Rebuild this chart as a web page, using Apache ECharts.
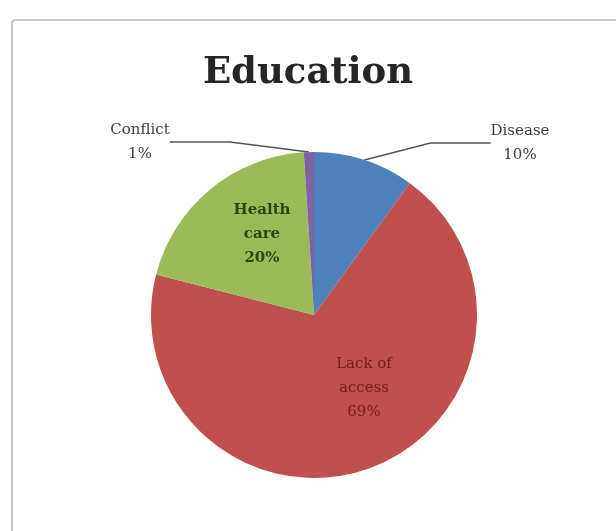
<!DOCTYPE html>
<html>
<head>
<meta charset="utf-8">
<script src="https://cdn.jsdelivr.net/npm/echarts@6/dist/echarts.min.js"></script>
<style>
  html, body { margin: 0; padding: 0; background: #ffffff; }
  #chart { width: 616px; height: 531px; }
</style>
</head>
<body>
<div id="chart"></div>
<script>
// Education breakdown, shares in percent (clockwise from 12 o'clock)
const categories = ['Disease', 'Lack of\naccess', 'Health\ncare', 'Conflict'];
const shares = [10, 69, 20, 1];
const sliceColors = ['#4f81bd', '#c0504d', '#9bbb59', '#8064a2'];
const labelInside = [false, true, true, false];
const insideTextColors = [null, '#6e1e1c', '#2e4410', null];

const chart = echarts.init(document.getElementById('chart'), null, { renderer: 'canvas' });

const pieData = categories.map((name, i) => ({
  name: name,
  value: shares[i],
  itemStyle: { color: sliceColors[i] },
  label: labelInside[i]
    ? { position: 'inside', color: insideTextColors[i], fontWeight: i === 2 ? 'bold' : 'normal' }
    : { position: 'outside', color: '#404040' },
  labelLine: { show: !labelInside[i] }
}));

chart.setOption({
  backgroundColor: '#ffffff',
  animation: false,
  title: {
    text: 'Education',
    left: 'center',
    top: 50,
    textStyle: {
      fontFamily: 'DejaVu Serif',
      fontWeight: 'bold',
      fontSize: 37,
      color: '#262626'
    }
  },
  graphic: [{
    type: 'rect',
    shape: { x: 12, y: 20, width: 612, height: 520, r: 3 },
    style: { fill: 'none', stroke: '#c6c6c6', lineWidth: 2 },
    z: -1
  }],
  series: [{
    type: 'pie',
    center: [314, 315],
    radius: [0, 163],
    startAngle: 90,
    clockwise: true,
    data: pieData,
    itemStyle: { borderColor: '#ffffff', borderWidth: 0 },
    label: {
      formatter: p => p.name + '\n' + p.value + '%',
      fontFamily: 'DejaVu Serif',
      fontSize: 15,
      lineHeight: 24,
      align: 'center'
    },
    labelLine: {
      length: 30,
      length2: 60,
      lineStyle: { color: '#555555', width: 1.5 }
    },
    labelLayout: function (params) {
      if (params.dataIndex === 0) {
        return { x: 520, y: 143, align: 'center', verticalAlign: 'middle' };
      }
      if (params.dataIndex === 3) {
        return { x: 140, y: 142, align: 'center', verticalAlign: 'middle' };
      }
      if (params.dataIndex === 1) {
        return { x: 364, y: 388, align: 'center', verticalAlign: 'middle' };
      }
      if (params.dataIndex === 2) {
        return { x: 262, y: 234, align: 'center', verticalAlign: 'middle' };
      }
      return {};
    }
  }]
});
</script>
</body>
</html>
